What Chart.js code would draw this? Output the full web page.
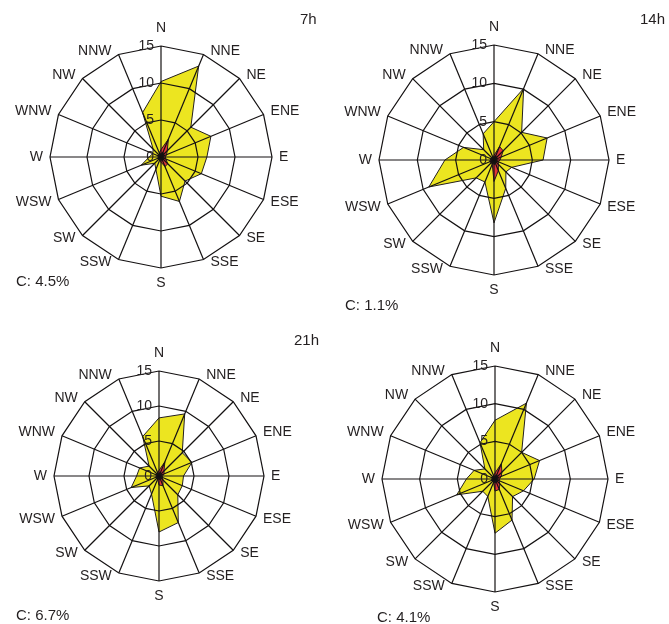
<!DOCTYPE html>
<html>
<head>
<meta charset="utf-8">
<script src="https://cdn.jsdelivr.net/npm/chart.js@4/dist/chart.umd.min.js"></script>
<style>
  html, body { margin: 0; padding: 0; background: #fff; }
  #page { position: relative; width: 669px; height: 624px; overflow: hidden;
          font-family: "Liberation Sans", Arial, sans-serif; color: #231f20; }
  #page canvas { position: absolute; left: 0; top: 0; }
  .note { position: absolute; font-size: 15px; line-height: 16px; white-space: nowrap; }
</style>
</head>
<body>
<div id="page">
  <canvas id="rose7" width="669" height="624"></canvas>
  <canvas id="rose14" width="669" height="624"></canvas>
  <canvas id="rose21" width="669" height="624"></canvas>
  <canvas id="roseAll" width="669" height="624"></canvas>

  <div class="note" style="left:300px;top:11px">7h</div>
  <div class="note" style="left:640px;top:11px">14h</div>
  <div class="note" style="left:294px;top:332px">21h</div>
  <div class="note" style="left:16px;top:273px">C: 4.5%</div>
  <div class="note" style="left:345px;top:297px">C: 1.1%</div>
  <div class="note" style="left:16px;top:607px">C: 6.7%</div>
  <div class="note" style="left:377px;top:609px">C: 4.1%</div>
</div>

<script>
// Wind directions, clockwise from north
const DIRECTIONS = ['N', 'NNE', 'NE', 'ENE', 'E', 'ESE', 'SE', 'SSE',
                    'S', 'SSW', 'SW', 'WSW', 'W', 'WNW', 'NW', 'NNW'];

// Values written along the north axis (frequency, %)
const RING_VALUES = [0, 5, 10, 15];

// Frequency of all winds per direction (%)
const FREQ_7H   = [10.2, 13.3, 5.7, 7.3, 6.2, 5.9, 4.6, 6.5, 5.3, 1.8, 1.2, 2.9, 1.6, 1.2, 1.5, 6.5];
const FREQ_14H  = [5.0, 10.1, 5.1, 7.5, 6.4, 2.5, 2.2, 4.0, 8.2, 3.1, 3.3, 9.2, 6.4, 4.3, 1.9, 3.7];
const FREQ_21H  = [8.3, 9.6, 4.7, 5.1, 3.5, 3.6, 3.8, 7.2, 8.0, 2.8, 2.0, 4.3, 3.2, 3.0, 2.0, 6.1];
const FREQ_ALL  = [7.8, 10.9, 5.0, 6.4, 5.2, 4.1, 3.3, 5.9, 7.2, 2.5, 2.3, 5.5, 3.8, 3.0, 1.9, 5.2];

// Frequency of strong winds per direction (%)
const STRONG_7H  = [1.0, 2.6, 1.2, 0.8, 0.6, 0.7, 1.3, 1.4, 0.7, 0.4, 0.3, 0.4, 0.3, 0.3, 0.3, 0.6];
const STRONG_14H = [0.6, 1.9, 1.7, 1.0, 0.8, 0.6, 0.8, 1.5, 2.8, 0.6, 0.5, 0.6, 0.5, 0.4, 0.3, 0.4];
const STRONG_21H = [0.8, 2.2, 1.0, 0.8, 0.5, 0.5, 0.8, 1.5, 1.3, 0.5, 0.3, 0.4, 0.4, 0.3, 0.3, 0.5];
const STRONG_ALL = [0.8, 2.2, 1.3, 0.9, 0.6, 0.6, 0.9, 1.5, 1.6, 0.5, 0.4, 0.5, 0.4, 0.3, 0.3, 0.5];

// Frequency of very strong winds per direction (%)
const STORM_7H  = [0.5, 0.7, 0.5, 0.4, 0.4, 0.4, 0.5, 0.5, 0.4, 0.4, 0.4, 0.4, 0.4, 0.4, 0.4, 0.4];
const STORM_14H = [0.4, 0.6, 0.5, 0.4, 0.4, 0.4, 0.4, 0.5, 0.6, 0.4, 0.4, 0.4, 0.4, 0.4, 0.4, 0.4];
const STORM_21H = [0.4, 0.6, 0.4, 0.4, 0.4, 0.4, 0.4, 0.5, 0.5, 0.4, 0.4, 0.4, 0.4, 0.4, 0.4, 0.4];
const STORM_ALL = [0.4, 0.6, 0.5, 0.4, 0.4, 0.4, 0.4, 0.5, 0.5, 0.4, 0.4, 0.4, 0.4, 0.4, 0.4, 0.4];

const YELLOW = 'rgb(236, 229, 32)';
const RED = 'rgb(229, 52, 56)';
const BLACK = '#1a1718';
const OUTLINE = '#231f20';
const LINE = '#141112';
const TEXT = '#231f20';

Chart.defaults.font.family = '"Liberation Sans", Arial, sans-serif';

// Direction names around the rim and ring values beside the north axis
const compassLabels = {
  id: 'compassLabels',
  afterDraw(chart) {
    const r = chart.scales.r;
    const ctx = chart.ctx;
    const outer = r.getDistanceFromCenterForValue(r.max);
    ctx.save();
    ctx.fillStyle = TEXT;
    ctx.font = '14px "Liberation Sans", Arial, sans-serif';
    ctx.textBaseline = 'middle';
    chart.data.labels.forEach((name, i) => {
      const p = r.getPointPosition(i, outer);
      const a = r.getIndexAngle(i);
      const sx = Math.sin(a);
      const sy = -Math.cos(a);
      let x = p.x;
      let y = p.y;
      if (Math.abs(sx) < 1e-6) {
        ctx.textAlign = 'center';
        y += sy < 0 ? -18 : 15;
      } else {
        ctx.textAlign = sx > 0 ? 'left' : 'right';
        x += sx > 0 ? 7 : -7;
        if (Math.abs(sy) > 1e-6) y += sy < 0 ? -3.5 : 3;
      }
      ctx.fillText(name, x, y);
    });
    ctx.textAlign = 'right';
    RING_VALUES.forEach(v => {
      ctx.fillText(String(v), r.xCenter - 7, r.yCenter - r.getDistanceFromCenterForValue(v));
    });
    ctx.restore();
  }
};

function windRose(id, all, strong, storm, geo) {
  const canvas = document.getElementById(id);
  const W = canvas.width, H = canvas.height;
  return new Chart(canvas, {
    type: 'radar',
    data: {
      labels: DIRECTIONS,
      datasets: [
        { label: 'all winds', data: all, backgroundColor: YELLOW, borderColor: OUTLINE,
          borderWidth: 1, fill: true, order: 3 },
        { label: 'strong winds', data: strong, backgroundColor: RED, borderColor: OUTLINE,
          borderWidth: 1, fill: true, order: 2 },
        { label: 'very strong winds', data: storm, backgroundColor: BLACK, borderColor: OUTLINE,
          borderWidth: 1, fill: true, order: 1 }
      ]
    },
    options: {
      responsive: false,
      animation: false,
      events: [],
      layout: {
        padding: {
          left: geo.cx - geo.r,
          top: geo.cy - geo.r,
          right: W - geo.cx - geo.r,
          bottom: H - geo.cy - geo.r
        }
      },
      elements: { point: { radius: 0, hoverRadius: 0 }, line: { tension: 0 } },
      plugins: { legend: { display: false }, tooltip: { enabled: false } },
      scales: {
        r: {
          min: 0,
          max: 15,
          ticks: { display: false, stepSize: 5 },
          pointLabels: { display: false },
          grid: { color: LINE, lineWidth: 1.2, z: 1 },
          angleLines: { color: LINE, lineWidth: 1.2 }
        }
      }
    },
    plugins: [compassLabels]
  });
}

windRose('rose7', FREQ_7H, STRONG_7H, STORM_7H, { cx: 161.5, cy: 157.5, r: 111.5 });
windRose('rose14', FREQ_14H, STRONG_14H, STORM_14H, { cx: 494.5, cy: 160.5, r: 115.5 });
windRose('rose21', FREQ_21H, STRONG_21H, STORM_21H, { cx: 159.5, cy: 476.7, r: 105.3 });
windRose('roseAll', FREQ_ALL, STRONG_ALL, STORM_ALL, { cx: 495, cy: 479, r: 113.2 });
</script>
</body>
</html>
